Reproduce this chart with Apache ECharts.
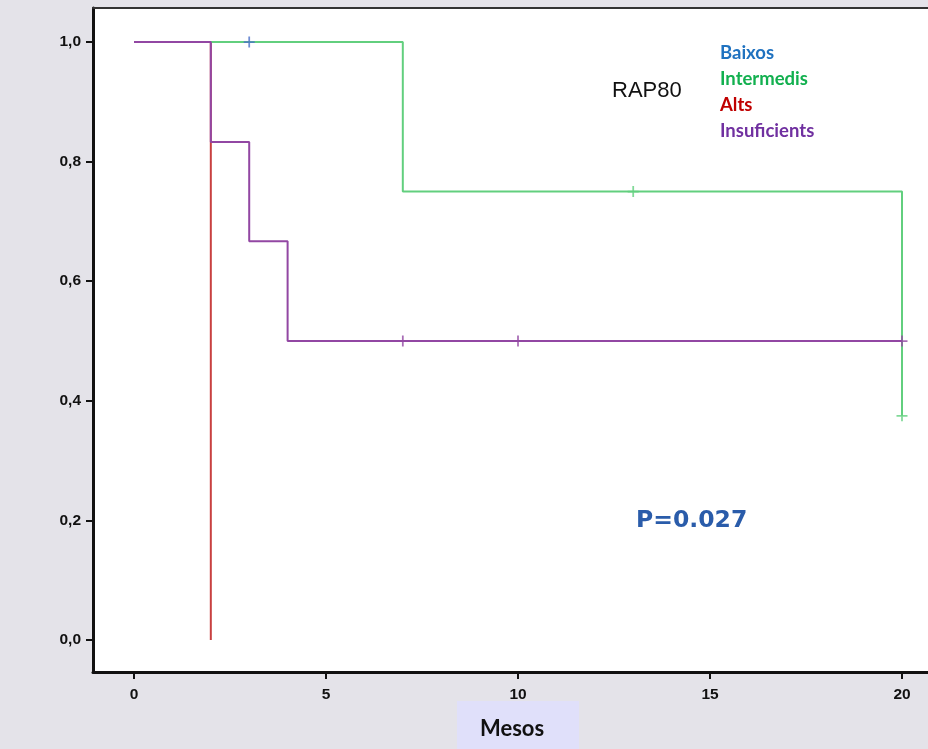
<!DOCTYPE html>
<html>
<head>
<meta charset="utf-8">
<script src="https://cdn.jsdelivr.net/npm/echarts@6/dist/echarts.min.js"></script>
<style>
html,body{margin:0;padding:0;background:#e4e3e9;}
#chart{width:928px;height:749px;}
</style>
</head>
<body>
<div id="chart"></div>
<script>
// ---- Data ----
const xTicks = [0, 5, 10, 15, 20];
const yTicks = [0, 0.2, 0.4, 0.6, 0.8, 1.0];

const baixosTimes = [0, 3];
const baixosSurv = [1.0, 1.0];
const baixosCensTimes = [3];
const baixosCensSurv = [1.0];

const intermedisTimes = [0, 7, 20];
const intermedisSurv = [1.0, 0.75, 0.375];
const intermedisCensTimes = [13, 20];
const intermedisCensSurv = [0.75, 0.375];

const altsTimes = [0, 2];
const altsSurv = [1.0, 0.0];

const insufTimes = [0, 2, 3, 4, 20];
const insufSurv = [1.0, 0.833, 0.667, 0.5, 0.5];
const insufCensTimes = [7, 10, 20];
const insufCensSurv = [0.5, 0.5, 0.5];

const legendNames = ['Baixos', 'Intermedis', 'Alts', 'Insuficients'];
const legendColors = ['#1f72c0', '#12b04f', '#c00000', '#7030a0'];

// ---- Build ----
function pairs(t, s) { return t.map((v, i) => [v, s[i]]); }

const colBlue = '#4a6fc8';
const colGreen = '#62cf7e';
const colRed = '#c84040';
const colPurple = '#9247a3';

const plusPath = 'path://M0,4.2H10V5.8H0Z M4.2,0H5.8V10H4.2Z';

function stepSeries(data, color, z) {
  return {
    type: 'line', step: 'end', data: data, symbol: 'none', z: z,
    lineStyle: { color: color, width: 2 }, animation: false, silent: true
  };
}
function censSeries(data, color, z) {
  return {
    type: 'scatter', data: data, symbol: plusPath, symbolSize: 11, z: z,
    itemStyle: { color: color }, animation: false, silent: true
  };
}

const XMIN = -1.068, XMAX = 20.677;
const YMIN = -0.0535, YMAX = 1.0569;

const chart = echarts.init(document.getElementById('chart'));
const legendGraphics = legendNames.map((n, i) => ({
  type: 'text', left: 720, top: 53 + i * 26 - 9,
  style: { text: n, fill: legendColors[i], font: 'bold 18.5px Lato' }
}));

const labelStyle = {
  margin: 12, color: '#111',
  fontFamily: 'Liberation Sans', fontWeight: 'bold', fontSize: 15.5
};

chart.setOption({
  backgroundColor: '#e4e3e9',
  animation: false,
  grid: {
    left: 93, top: 8, right: 0, height: 664,
    show: true, backgroundColor: '#ffffff', borderWidth: 0
  },
  xAxis: [{
    type: 'value', min: XMIN, max: XMAX,
    axisLine: { show: true, onZero: false, lineStyle: { color: '#111', width: 3 } },
    axisTick: { show: true, customValues: xTicks, length: 7, lineStyle: { color: '#111', width: 2 } },
    axisLabel: Object.assign({}, labelStyle, {
      customValues: xTicks, margin: 15, formatter: v => String(v)
    }),
    splitLine: { show: false }
  }, {
    type: 'value', position: 'top', min: XMIN, max: XMAX,
    axisLine: { show: true, onZero: false, lineStyle: { color: '#333', width: 2 } },
    axisTick: { show: false }, axisLabel: { show: false }, splitLine: { show: false }
  }],
  yAxis: {
    type: 'value', min: YMIN, max: YMAX,
    axisLine: { show: true, onZero: false, lineStyle: { color: '#111', width: 3 } },
    axisTick: { show: true, customValues: yTicks, length: 7, lineStyle: { color: '#111', width: 2 } },
    axisLabel: Object.assign({}, labelStyle, {
      customValues: yTicks, formatter: v => Number(v).toFixed(1).replace('.', ',')
    }),
    splitLine: { show: false }
  },
  series: [
    stepSeries(pairs(baixosTimes, baixosSurv), colBlue, 2),
    stepSeries(pairs(altsTimes, altsSurv), colRed, 3),
    stepSeries(pairs(intermedisTimes, intermedisSurv), colGreen, 4),
    stepSeries(pairs(insufTimes, insufSurv), colPurple, 5),
    censSeries(pairs(baixosCensTimes, baixosCensSurv), colBlue, 6),
    censSeries(pairs(intermedisCensTimes, intermedisCensSurv), colGreen, 6),
    censSeries(pairs(insufCensTimes, insufCensSurv), colPurple, 6)
  ],
  graphic: [
    {
      type: 'text', left: 612, top: 80,
      style: { text: 'RAP80', fill: '#111', font: '22px "Liberation Sans"' }
    },
    ...legendGraphics,
    {
      type: 'text', left: 636, top: 509,
      style: { text: 'P=0.027', fill: '#2a5caa', font: 'bold 23.5px "DejaVu Sans"' }
    },
    {
      type: 'rect', shape: { x: 457, y: 701, width: 122, height: 48 },
      style: { fill: '#e0e0fa' }, z: 0
    },
    {
      type: 'text', left: 480, top: 718,
      style: { text: 'Mesos', fill: '#111', font: 'bold 22px Lato' }, z: 1
    }
  ]
});
</script>
</body>
</html>
